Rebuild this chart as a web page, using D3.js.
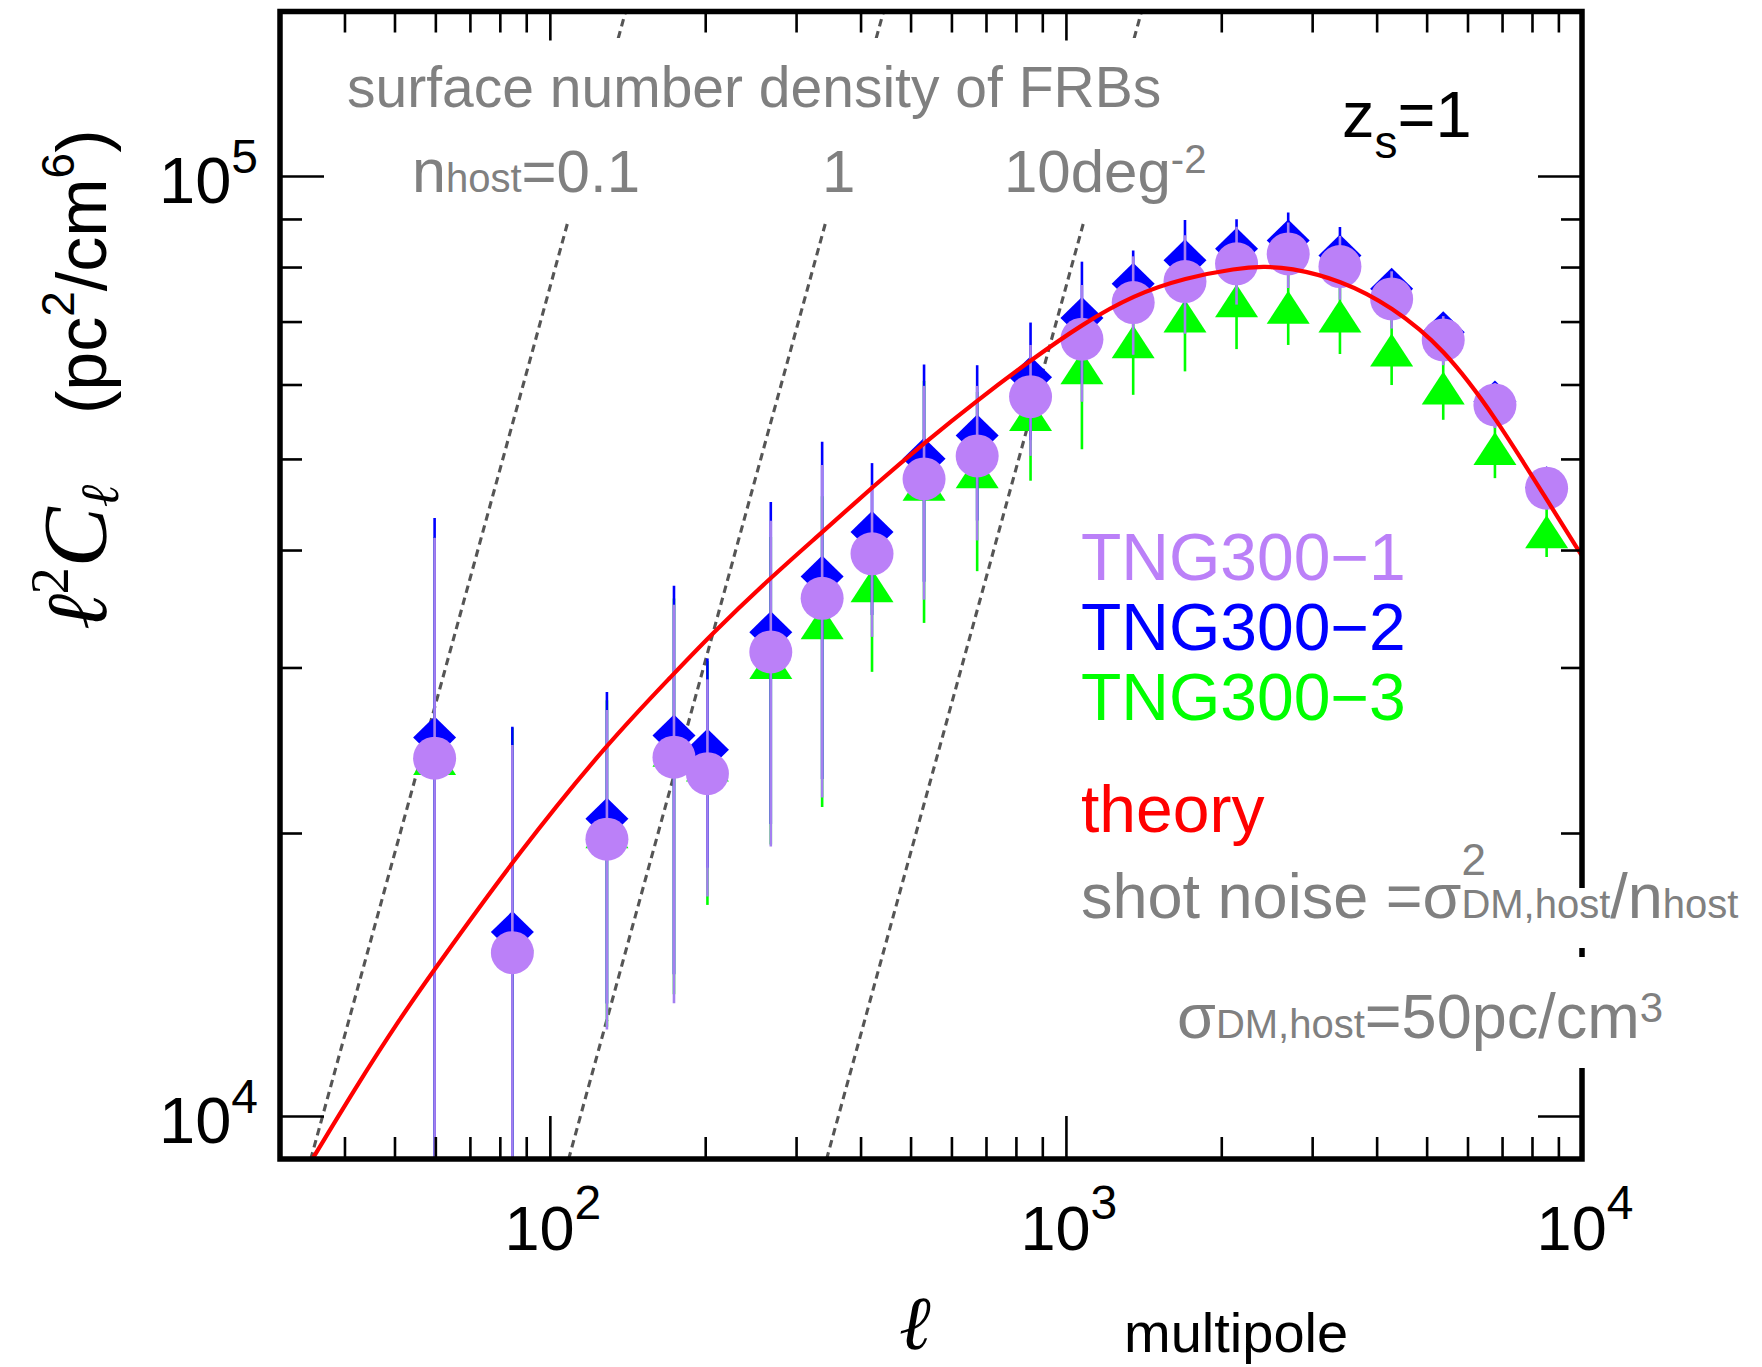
<!DOCTYPE html>
<html><head><meta charset="utf-8">
<script src="https://cdn.jsdelivr.net/npm/d3@7"></script>
<style>body{margin:0;background:#fff} svg{display:block}</style>
</head><body>
<svg id="chart" width="1762" height="1367"></svg>
<script>
// ---------------- data ----------------
const ells = [59.8,84.6,129,174,202,268,337,421,531,673,854,1074,1350,1701,2141,2696,3396,4277,5384,6781,8540];
const tng1 = [24020,14920,19700,24080,23130,31160,35540,39630,47610,50370,58240,67040,73330,77200,80630,82610,80090,73990,66920,57070,46540];
const tng1Err = [17190,9890,7340,10900,6010,11810,13720,7290,12190,9420,7860,9520,8800,9260,7660,6610,6250,5180,4020,3140,2330];
const tng2 = [25270,15690,20710,25400,24520,32710,37490,41800,50010,52950,61090,70610,76800,81320,83680,85400,82310,75860,68210,57560,46660];
const tng2Err = [17990,10260,7540,11250,6150,12270,14660,7690,13000,9950,8740,10450,6530,8460,6280,6060,5930,3410,2730,2010,1400];
const tng3 = [24010,15590,20060,24500,23620,30370,33470,36640,47000,48450,55760,62520,66630,70970,73680,72480,70970,65270,59490,51290,41830];
const tng3Err = [17290,10290,7620,11030,6850,10930,12150,6960,13540,10470,8360,11320,8130,9010,8250,6380,6320,5350,4460,3590,2510];

const theoryL = [30,34.6,42.1,51.5,59.9,87.5,129.3,174.6,205,269.1,338.2,422.7,532.3,675.1,856.5,1077,1353,1704,2146,2416,2701,3402,4284,5393,6791,8551,10000];
const theoryY = [7910,8980,10740,12750,14350,19140,24920,29610,32490,37480,41840,46720,52040,57780,63730,69590,74710,77910,79790,80100,79900,77530,72610,65610,55450,45210,39430];

// shot-noise lines (end points)
const shotNoise = [
  {label:"0.1", l:[34.4,140.3], v:[8990,149800]},
  {label:"1",   l:[108.7,443.5], v:[8990,149800]},
  {label:"10",  l:[343.6,1402],  v:[8990,149800]}
];

const xMajorTicks = [100,1000,10000];
const xMinorTicks = [40,50,60,70,80,90,200,300,400,500,600,700,800,900,2000,3000,4000,5000,6000,7000,8000,9000];
const yMajorTicks = [10000,100000];
const yMinorTicks = [20000,30000,40000,50000,60000,70000,80000,90000];
const xTickLabels = [{v:100,b:"10",e:"2"},{v:1000,b:"10",e:"3"},{v:10000,b:"10",e:"4"}];
const yTickLabels = [{v:10000,b:"10",e:"4"},{v:100000,b:"10",e:"5"}];

const C_PURPLE = "#bb80f8", C_PURPLE_BAR = "#a47ff0", C_BLUE = "#0000ff", C_GREEN = "#00ff00",
      C_RED = "#ff0000", C_GRAY = "#808080", C_DASH = "#555555";
const SANS = "'Liberation Sans', Arial, Helvetica, sans-serif";
const SERIF = "'Liberation Serif', 'Times New Roman', serif";

// ---------------- scales ----------------
const M = {left:280, right:1582, top:11.5, bottom:1159};
const x = d3.scaleLog().domain([30,10000]).range([M.left, M.right]);
const y = d3.scaleLog().domain([9000,149600]).range([M.bottom, M.top]);

const svg = d3.select("#chart");
const defs = svg.append("defs");
defs.append("clipPath").attr("id","plotClip").append("rect")
  .attr("x",M.left).attr("y",M.top).attr("width",M.right-M.left).attr("height",M.bottom-M.top);
const dc = defs.append("clipPath").attr("id","dashClip");
dc.append("rect").attr("x",M.left).attr("y",M.top).attr("width",M.right-M.left).attr("height",38-M.top);
dc.append("rect").attr("x",M.left).attr("y",220).attr("width",M.right-M.left).attr("height",M.bottom-220);

// ---------------- shot noise dashed lines ----------------
const gDash = svg.append("g").attr("clip-path","url(#dashClip)");
shotNoise.forEach(s => {
  gDash.append("line")
    .attr("x1", x(s.l[0])).attr("y1", y(s.v[0]))
    .attr("x2", x(s.l[1])).attr("y2", y(s.v[1]))
    .attr("stroke", C_DASH).attr("stroke-width", 3.1).attr("stroke-dasharray","7.5 5");
});

// ---------------- data series ----------------
const gData = svg.append("g").attr("clip-path","url(#plotClip)");
function drawBars(vals, errs, color){
  gData.append("g").selectAll("line").data(vals).join("line")
    .attr("x1",(d,i)=>x(ells[i])).attr("x2",(d,i)=>x(ells[i]))
    .attr("y1",(d,i)=>y(Math.max(d-errs[i],1000)))
    .attr("y2",(d,i)=>y(d+errs[i]))
    .attr("stroke",color).attr("stroke-width",2.6);
}
// green (triangles)
drawBars(tng3, tng3Err, C_GREEN);
gData.append("g").selectAll("path").data(tng3).join("path")
  .attr("d",(d,i)=>{const cx=x(ells[i]), cy=y(d);
     return `M${cx},${cy-16.5}L${cx+21.5},${cy+16.5}L${cx-21.5},${cy+16.5}Z`;})
  .attr("fill",C_GREEN);
// blue (diamonds)
drawBars(tng2, tng2Err, C_BLUE);
gData.append("g").selectAll("path").data(tng2).join("path")
  .attr("d",(d,i)=>{const cx=x(ells[i]), cy=y(d);
     return `M${cx},${cy-21}L${cx+21.5},${cy}L${cx},${cy+21}L${cx-21.5},${cy}Z`;})
  .attr("fill",C_BLUE);
// purple (circles)
drawBars(tng1, tng1Err, C_PURPLE_BAR);
gData.append("g").selectAll("circle").data(tng1).join("circle")
  .attr("cx",(d,i)=>x(ells[i])).attr("cy",d=>y(d)).attr("r",21.5)
  .attr("fill",C_PURPLE);

// theory curve
gData.append("path")
  .datum(theoryL.map((l,i)=>[x(l), y(theoryY[i])]))
  .attr("d", d3.line().curve(d3.curveBasis))
  .attr("fill","none").attr("stroke",C_RED).attr("stroke-width",4.2);

// ---------------- axes ----------------
function axis(gen, tr, vals, size){
  const g = svg.append("g").attr("transform",tr)
    .call(gen.tickValues(vals).tickSize(size).tickFormat(""));
  g.select(".domain").remove();
  g.selectAll(".tick line").attr("stroke","#000").attr("stroke-width",2.6);
}
axis(d3.axisBottom(x), `translate(0,${M.bottom})`, xMajorTicks, -43);
axis(d3.axisBottom(x), `translate(0,${M.bottom})`, xMinorTicks, -22);
axis(d3.axisTop(x), `translate(0,${M.top})`, xMajorTicks, -29);
axis(d3.axisTop(x), `translate(0,${M.top})`, xMinorTicks, -21);
axis(d3.axisLeft(y), `translate(${M.left},0)`, yMajorTicks, -44);
axis(d3.axisLeft(y), `translate(${M.left},0)`, yMinorTicks, -22);
axis(d3.axisRight(y), `translate(${M.right},0)`, yMajorTicks, -44);
axis(d3.axisRight(y), `translate(${M.right},0)`, yMinorTicks, -21);
svg.append("rect").attr("x",M.left).attr("y",M.top)
  .attr("width",M.right-M.left).attr("height",M.bottom-M.top)
  .attr("fill","none").attr("stroke","#000").attr("stroke-width",5.5);

// ---------------- text helper ----------------
function runs(parent, x0, y0, items, color){
  const g = parent.append("g");
  let cx = x0;
  items.forEach(r=>{
    const t = g.append("text")
      .attr("x", cx).attr("y", y0 + (r.dy||0))
      .attr("font-family", r.family||SANS).attr("font-size", r.size)
      .attr("font-style", r.italic ? "italic" : null)
      .attr("fill", r.color||color).text(r.text);
    const w = t.node().getComputedTextLength();
    if(!r.noAdvance) cx += w + (r.gap||0);
  });
  return {g, width: cx - x0};
}

// tick labels
xTickLabels.forEach(t=>{
  const r = runs(svg, 0, 1250, [{text:t.b,size:63},{text:t.e,size:48,dy:-31}], "#000");
  r.g.attr("transform",`translate(${x(t.v)-r.width/2+3},0)`);
});
yTickLabels.forEach(t=>{
  const r = runs(svg, 0, y(t.v)+27, [{text:t.b,size:65},{text:t.e,size:48,dy:-30}], "#000");
  r.g.attr("transform",`translate(${258-r.width},0)`);
});

// annotation texts (top)
runs(svg, 347, 107, [{text:"surface number density of FRBs", size:57}], C_GRAY);
runs(svg, 412, 192, [{text:"n",size:61},{text:"host",size:40},{text:"=0.1",size:60}], C_GRAY);
runs(svg, 822, 192, [{text:"1",size:60}], C_GRAY);
runs(svg, 1004, 192, [{text:"10deg",size:60},{text:"-2",size:40,dy:-19}], C_GRAY);
runs(svg, 1342, 137, [{text:"z",size:65},{text:"s",size:46,dy:21},{text:"=1",size:65}], "#000");

// legend
runs(svg, 1081, 580, [{text:"TNG300\u22121", size:66}], C_PURPLE);
runs(svg, 1081, 650, [{text:"TNG300\u22122", size:66}], C_BLUE);
runs(svg, 1081, 720, [{text:"TNG300\u22123", size:66}], C_GREEN);
runs(svg, 1081, 832, [{text:"theory", size:66}], C_RED);

// white boxes behind texts that cross the right frame
svg.append("rect").attr("x",1520).attr("y",888).attr("width",240).attr("height",60).attr("fill","#fff");
svg.append("rect").attr("x",1520).attr("y",957).attr("width",160).attr("height",111).attr("fill","#fff");

runs(svg, 1081, 918, [
  {text:"shot noise =\u03c3", size:63},
  {text:"2", size:44, dy:-43, noAdvance:true},
  {text:"DM,host", size:40},
  {text:"/n", size:63},
  {text:"host", size:40}
], C_GRAY);
runs(svg, 1177, 1038, [
  {text:"\u03c3", size:63},
  {text:"DM,host", size:40},
  {text:"=50pc/cm", size:63},
  {text:"3", size:42, dy:-16}
], C_GRAY);

// axis titles
runs(svg, 899, 1349, [{text:"\u2113", size:76, italic:true, family:SERIF}], "#000");
runs(svg, 1124, 1352, [{text:"multipole", size:56}], "#000");

const yt = svg.append("g").attr("transform","translate(106,630) rotate(-90)");
runs(yt, 0, 0, [
  {text:"\u2113", size:86, italic:true, family:SERIF},
  {text:"2", size:54, dy:-38, family:SERIF},
  {text:"C", size:90, italic:true, family:SERIF},
  {text:"\u2113", size:54, dy:12, italic:true, family:SERIF}
], "#000");
runs(yt, 216, 0, [
  {text:"(pc", size:70},
  {text:"2", size:46, dy:-32},
  {text:"/cm", size:70},
  {text:"6", size:46, dy:-32},
  {text:")", size:70}
], "#000");
</script>
</body></html>
